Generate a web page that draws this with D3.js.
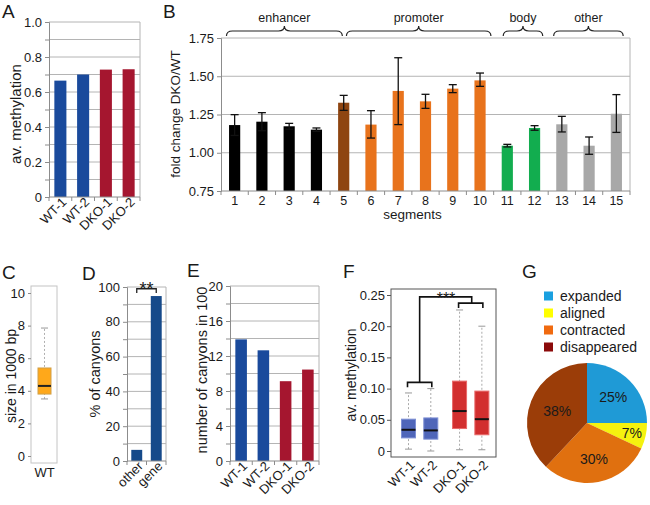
<!DOCTYPE html>
<html>
<head>
<meta charset="utf-8">
<script src="https://cdn.jsdelivr.net/npm/d3@7"></script>
<style>
body { margin: 0; background: #fff; }
text { font-family: "Liberation Sans", Arial, sans-serif; fill: #1a1a1a; }
</style>
</head>
<body>
<svg id="fig" width="650" height="505"></svg>
<script>

// ---- data ----
// A / E
var samples = ["WT-1", "WT-2", "DKO-1", "DKO-2"];
var methAvg = [0.665, 0.70, 0.728, 0.73];
var canyonCount = [13.9, 12.65, 9.12, 10.45];
// B
var segments = ["1","2","3","4","5","6","7","8","9","10","11","12","13","14","15"];
var segType = ["enhancer","enhancer","enhancer","enhancer","mixed","promoter","promoter","promoter","promoter","promoter","body","body","other","other","other"];
var foldChange = [1.181, 1.203, 1.173, 1.151, 1.327, 1.184, 1.404, 1.336, 1.419, 1.473, 1.046, 1.162, 1.186, 1.046, 1.255];
var foldHigh   = [1.249, 1.262, 1.192, 1.162, 1.375, 1.275, 1.621, 1.382, 1.445, 1.521, 1.055, 1.177, 1.238, 1.103, 1.380];
var foldLow    = [1.113, 1.144, 1.154, 1.140, 1.277, 1.096, 1.184, 1.290, 1.393, 1.434, 1.038, 1.147, 1.136, 0.990, 1.133];
var regions = ["enhancer", "promoter", "body", "other"];
// C  (low whisker, Q1, median, Q3, high whisker)
var sizeStats = [3.5, 3.8, 4.3, 5.4, 7.85];
// D
var canyonLoc = ["other", "gene"];
var canyonPct = [6.4, 94.8];
// F  (low whisker, Q1, median, Q3, high whisker) per sample
var methBox = [
  [0.003, 0.021, 0.034, 0.051, 0.093],
  [0.000, 0.019, 0.033, 0.053, 0.100],
  [0.002, 0.036, 0.064, 0.112, 0.226],
  [0.002, 0.026, 0.051, 0.096, 0.200]
];
// G
var canyonFate = ["expanded", "aligned", "contracted", "disappeared"];
var fatePct = [25, 7, 30, 38];

// ---- styles ----
var gridCol = "#b4b4b4", axisCol = "#8c8c8c";
var sampleCol = {"WT-1": "#1a4a9c", "WT-2": "#1a4a9c", "DKO-1": "#a5162f", "DKO-2": "#a5162f"};
var segCol = {enhancer: "#000000", mixed: "#8e4511", promoter: "#e8731c", body: "#12ad4f", other: "#a8a8a8"};
var boxCol = {"WT-1": "#4f66b9", "WT-2": "#4f66b9", "DKO-1": "#d22f2f", "DKO-2": "#d22f2f"};
var boxEdge = {"WT-1": "#7d8fd4", "WT-2": "#7d8fd4", "DKO-1": "#e86a6a", "DKO-2": "#e86a6a"};
var sliceCol = ["#1f9ad6", "#f5f20f", "#e0700f", "#9b3d08"];
var legendCol = ["#1aa0e0", "#ffff00", "#f06a10", "#8b0a0a"];

var svg = d3.select("#fig");

function panelLabel(t, x, y) {
  svg.append("text").attr("x", x).attr("y", y).style("font-size", "19px").text(t);
}
function yTitle(t, x, y, size) {
  svg.append("text")
    .attr("transform", "translate(" + x + "," + y + ") rotate(-90)")
    .attr("text-anchor", "middle").attr("dy", "0.35em")
    .style("font-size", size + "px").text(t);
}
function styleAxis(g, size) {
  g.attr("font-size", size);
  g.select(".domain").attr("stroke", axisCol);
  g.selectAll(".tick line").attr("stroke", axisCol);
}

// simple bar panel used for A, D, E
function barPanel(p) {
  var x = d3.scaleBand().domain(p.cats).range([p.x0, p.x1]);
  var y = d3.scaleLinear().domain(p.domain).range([p.y0, p.y1]);
  var ticks = d3.range(p.n + 1).map(function(i) { return p.domain[0] + i * (p.domain[1] - p.domain[0]) / p.n; });
  var g = svg.append("g");

  g.selectAll(".grid").data(ticks.slice(1)).enter().append("line")
    .attr("x1", p.x0).attr("x2", p.x1)
    .attr("y1", function(d) { return y(d); }).attr("y2", function(d) { return y(d); })
    .attr("stroke", gridCol);
  g.append("line").attr("x1", p.x1).attr("x2", p.x1).attr("y1", p.y1).attr("y2", p.y0).attr("stroke", gridCol);

  g.selectAll(".bar").data(p.vals).enter().append("rect")
    .attr("x", function(d, i) { return x(p.cats[i]) + x.bandwidth() * (1 - p.frac) / 2; })
    .attr("width", x.bandwidth() * p.frac)
    .attr("y", function(d) { return y(d); })
    .attr("height", function(d) { return y(p.domain[0]) - y(d); })
    .attr("fill", function(d, i) { return p.colors[i]; });

  var ya = g.append("g").attr("transform", "translate(" + p.x0 + ",0)")
    .call(d3.axisLeft(y).tickValues(ticks).tickSize(4).tickPadding(3)
      .tickFormat(function(d, i) { return i % p.every ? "" : p.fmt(d); }));
  styleAxis(ya, p.tickSize);

  var xa = g.append("g");
  xa.append("line").attr("x1", p.x0).attr("x2", p.x1).attr("y1", p.y0).attr("y2", p.y0).attr("stroke", axisCol);
  xa.selectAll(".xt").data(d3.range(p.cats.length + 1)).enter().append("line")
    .attr("x1", function(i) { return p.x0 + i * x.step(); })
    .attr("x2", function(i) { return p.x0 + i * x.step(); })
    .attr("y1", p.y0).attr("y2", p.y0 + 4).attr("stroke", axisCol);
  xa.selectAll(".xl").data(p.cats).enter().append("text")
    .attr("transform", function(d) {
      return "translate(" + (x(d) + x.bandwidth() / 2 + 7) + "," + (p.y0 + 6) + ") rotate(-45)";
    })
    .attr("text-anchor", "end").style("font-size", p.tickSize + "px").text(function(d) { return d; });
  return {x: x, y: y};
}

// ---- A ----
panelLabel("A", 2, 18);
barPanel({cats: samples, vals: methAvg, colors: samples.map(function(s) { return sampleCol[s]; }),
  x0: 49, x1: 140, y0: 197, y1: 22, domain: [0, 1], n: 10, every: 2, frac: 0.53, tickSize: 13,
  fmt: function(d) { return d === 0 ? "0" : d3.format(".1f")(d); }});
yTitle("av. methylation", 16, 114, 15);

// ---- B ----
panelLabel("B", 163, 18);
(function() {
  var x0 = 221, x1 = 630, y0 = 191, y1 = 38;
  var x = d3.scaleBand().domain(segments).range([x0, x1]);
  var y = d3.scaleLinear().domain([0.75, 1.75]).range([y0, y1]);
  var g = svg.append("g");
  g.selectAll(".grid").data([1.0, 1.25, 1.5, 1.75]).enter().append("line")
    .attr("x1", x0).attr("x2", x1)
    .attr("y1", function(d) { return y(d); }).attr("y2", function(d) { return y(d); })
    .attr("stroke", gridCol);
  g.append("line").attr("x1", x1).attr("x2", x1).attr("y1", y1).attr("y2", y0).attr("stroke", gridCol);

  var bw = x.bandwidth() * 0.41;
  g.selectAll(".bar").data(foldChange).enter().append("rect")
    .attr("x", function(d, i) { return x(segments[i]) + (x.bandwidth() - bw) / 2; })
    .attr("width", bw)
    .attr("y", function(d) { return y(d); })
    .attr("height", function(d) { return y0 - y(d); })
    .attr("fill", function(d, i) { return segCol[segType[i]]; });

  var eb = g.selectAll(".err").data(segments).enter().append("g")
    .attr("transform", function(d) { return "translate(" + (x(d) + x.bandwidth() / 2) + ",0)"; })
    .attr("stroke", "#111").attr("stroke-width", 1.3);
  eb.append("line").attr("y1", function(d, i) { return y(foldHigh[i]); }).attr("y2", function(d, i) { return y(foldLow[i]); });
  eb.append("line").attr("x1", -4).attr("x2", 4).attr("y1", function(d, i) { return y(foldHigh[i]); }).attr("y2", function(d, i) { return y(foldHigh[i]); });
  eb.append("line").attr("x1", -4).attr("x2", 4).attr("y1", function(d, i) { return y(foldLow[i]); }).attr("y2", function(d, i) { return y(foldLow[i]); });

  var ya = g.append("g").attr("transform", "translate(" + x0 + ",0)")
    .call(d3.axisLeft(y).tickValues([0.75, 1.0, 1.25, 1.5, 1.75]).tickSize(4).tickPadding(3).tickFormat(d3.format(".2f")));
  styleAxis(ya, 13);

  g.append("line").attr("x1", x0).attr("x2", x1).attr("y1", y0).attr("y2", y0).attr("stroke", axisCol);
  g.selectAll(".xt").data(d3.range(segments.length + 1)).enter().append("line")
    .attr("x1", function(i) { return x0 + i * x.step(); }).attr("x2", function(i) { return x0 + i * x.step(); })
    .attr("y1", y0).attr("y2", y0 + 4).attr("stroke", axisCol);
  g.selectAll(".xl").data(segments).enter().append("text")
    .attr("x", function(d) { return x(d) + x.bandwidth() / 2; }).attr("y", 205)
    .attr("text-anchor", "middle").style("font-size", "12.5px").text(function(d) { return d; });
  g.append("text").attr("x", (x0 + x1) / 2 - 13).attr("y", 219).attr("text-anchor", "middle")
    .style("font-size", "13.5px").text("segments");

  // braces above the groups, spans in segment units
  var braceSpan = [[0.2, 4.45], [4.6, 9.9], [10.35, 11.8], [12.2, 14.75]];
  var s = d3.scaleLinear().domain([0, segments.length]).range([x0, x1]);
  regions.forEach(function(r, i) {
    var a = s(braceSpan[i][0]), b = s(braceSpan[i][1]), m = (a + b) / 2;
    var yb = 36, yl = 31, yt = 26;
    g.append("path")
      .attr("d", "M" + a + "," + yb + " Q" + a + "," + yl + " " + (a + 6) + "," + yl +
        " L" + (m - 6) + "," + yl + " Q" + m + "," + yl + " " + m + "," + yt +
        " Q" + m + "," + yl + " " + (m + 6) + "," + yl +
        " L" + (b - 6) + "," + yl + " Q" + b + "," + yl + " " + b + "," + yb)
      .attr("fill", "none").attr("stroke", "#222").attr("stroke-width", 1.2);
    g.append("text").attr("x", m).attr("y", 22).attr("text-anchor", "middle")
      .style("font-size", "12.5px").text(r);
  });
  yTitle("fold change DKO/WT", 175, 114, 13.5);
})();

// ---- C ----
panelLabel("C", 2, 279);
(function() {
  var fx0 = 31, fx1 = 57, fy0 = 463, fy1 = 286;
  var y = d3.scaleLinear().domain([0, 10]).range([456, 293]);
  var g = svg.append("g");
  g.append("rect").attr("x", fx0).attr("y", fy1).attr("width", fx1 - fx0).attr("height", fy0 - fy1)
    .attr("fill", "none").attr("stroke", "#c4c4c4");
  var ya = g.append("g").attr("transform", "translate(" + fx0 + ",0)")
    .call(d3.axisLeft(y).tickValues([0, 2, 4, 6, 8, 10]).tickSize(3).tickPadding(3));
  ya.select(".domain").remove();
  styleAxis(ya, 13);
  var cx = 44.5, hw = 6.5;
  g.append("line").attr("x1", cx).attr("x2", cx).attr("y1", y(sizeStats[0])).attr("y2", y(sizeStats[4]))
    .attr("stroke", "#b0b0b0").attr("stroke-dasharray", "2,2");
  [sizeStats[0], sizeStats[4]].forEach(function(v) {
    g.append("line").attr("x1", cx - 3.5).attr("x2", cx + 3.5).attr("y1", y(v)).attr("y2", y(v)).attr("stroke", "#999");
  });
  g.append("rect").attr("x", cx - hw).attr("width", 2 * hw)
    .attr("y", y(sizeStats[3])).attr("height", y(sizeStats[1]) - y(sizeStats[3]))
    .attr("fill", "#ffa81a").attr("stroke", "#d0a04a");
  g.append("line").attr("x1", cx - hw).attr("x2", cx + hw).attr("y1", y(sizeStats[2])).attr("y2", y(sizeStats[2]))
    .attr("stroke", "#222").attr("stroke-width", 2);
  g.append("text").attr("x", cx).attr("y", 477).attr("text-anchor", "middle").style("font-size", "13px").text("WT");
  yTitle("size in 1000 bp", 11, 376, 14);
})();

// ---- D ----
panelLabel("D", 82, 280);
(function() {
  var sc = barPanel({cats: canyonLoc, vals: canyonPct, colors: ["#164a8a", "#164a8a"],
    x0: 127, x1: 166, y0: 461, y1: 287, domain: [0, 100], n: 10, every: 2, frac: 0.56, tickSize: 13,
    fmt: d3.format("d")});
  var a = sc.x("other") + sc.x.bandwidth() / 2, b = sc.x("gene") + sc.x.bandwidth() / 2;
  var yb = sc.y(99), yl = sc.y(96.5);
  svg.append("path").attr("d", "M" + a + "," + yl + " L" + a + "," + yb + " L" + b + "," + yb + " L" + b + "," + yl)
    .attr("fill", "none").attr("stroke", "#222").attr("stroke-width", 1.3);
  svg.append("text").attr("x", (a + b) / 2).attr("y", 295).attr("text-anchor", "middle")
    .style("font-size", "18px").text("**");
  yTitle("% of canyons", 95, 374, 14.5);
})();

// ---- E ----
panelLabel("E", 187, 277);
barPanel({cats: samples, vals: canyonCount, colors: samples.map(function(s) { return sampleCol[s]; }),
  x0: 230, x1: 319, y0: 461, y1: 286, domain: [0, 20], n: 10, every: 2, frac: 0.52, tickSize: 13,
  fmt: d3.format("d")});
yTitle("number of canyons in 100", 202, 370, 14.5);

// ---- F ----
panelLabel("F", 343, 278);
(function() {
  var fx0 = 391, fx1 = 496, fy0 = 457, fy1 = 289;
  var y = d3.scaleLinear().domain([0, 0.25]).range([451, 295]);
  // WT pair and DKO pair are set slightly apart
  var slot = samples.map(function(s, i) { return i + (i >= 2 ? 0.29 : 0); });
  var x = d3.scaleLinear().domain([0, 1]).range([408.5, 430.8]);
  var g = svg.append("g");
  g.append("rect").attr("x", fx0).attr("y", fy1).attr("width", fx1 - fx0).attr("height", fy0 - fy1)
    .attr("fill", "none").attr("stroke", "#555");
  var ya = g.append("g").attr("transform", "translate(" + fx0 + ",0)")
    .call(d3.axisLeft(y).tickValues([0, 0.05, 0.1, 0.15, 0.2, 0.25]).tickSize(4).tickPadding(2)
      .tickFormat(function(d) { return d === 0 ? "0" : d3.format(".2f")(d); }));
  ya.select(".domain").remove();
  styleAxis(ya, 13);
  ya.selectAll(".tick line").attr("stroke", "#555");

  var hw = 7;
  samples.forEach(function(s, i) {
    var st = methBox[i], cx = x(slot[i]);
    g.append("line").attr("x1", cx).attr("x2", cx).attr("y1", y(st[0])).attr("y2", y(st[4]))
      .attr("stroke", "#aaa").attr("stroke-dasharray", "2,2");
    [st[0], st[4]].forEach(function(v) {
      g.append("line").attr("x1", cx - 3.5).attr("x2", cx + 3.5).attr("y1", y(v)).attr("y2", y(v)).attr("stroke", "#999");
    });
    g.append("rect").attr("x", cx - hw).attr("width", 2 * hw)
      .attr("y", y(st[3])).attr("height", y(st[1]) - y(st[3]))
      .attr("fill", boxCol[s]).attr("stroke", boxEdge[s]);
    g.append("line").attr("x1", cx - hw).attr("x2", cx + hw).attr("y1", y(st[2])).attr("y2", y(st[2]))
      .attr("stroke", "#111").attr("stroke-width", 2);
    g.append("text")
      .attr("transform", "translate(" + (cx + 7) + "," + (fy0 + 9) + ") rotate(-45)")
      .attr("text-anchor", "end").style("font-size", "13px").text(s);
  });

  // significance brackets
  var w1 = x(slot[0]) - 1, w2 = x(slot[1]) + 1, wm = (w1 + w2) / 2;
  var d1 = x(slot[2]) - 1, d2 = x(slot[3]) + 1, dm = (d1 + d2) / 2 + 1;
  var br = g.append("g").attr("fill", "none").attr("stroke", "#111").attr("stroke-width", 1.6);
  br.append("path").attr("d", "M" + w1 + "," + y(0.102) + " L" + w1 + "," + y(0.110) + " L" + w2 + "," + y(0.110) + " L" + w2 + "," + y(0.102));
  br.append("path").attr("d", "M" + d1 + "," + y(0.229) + " L" + d1 + "," + y(0.237) + " L" + d2 + "," + y(0.237) + " L" + d2 + "," + y(0.229));
  br.append("path").attr("d", "M" + wm + "," + y(0.110) + " L" + wm + "," + y(0.247) + " L" + dm + "," + y(0.247) + " L" + dm + "," + y(0.237));
  g.append("text").attr("x", 446).attr("y", 304).attr("text-anchor", "middle").style("font-size", "16px").text("***");
  yTitle("av. methylation", 351, 375, 14);
})();

// ---- G ----
panelLabel("G", 522, 278);
(function() {
  var lg = svg.append("g");
  canyonFate.forEach(function(c, i) {
    var yc = 296 + i * 17;
    lg.append("rect").attr("x", 544).attr("y", yc - 4.5).attr("width", 9).attr("height", 9).attr("fill", legendCol[i]);
    lg.append("text").attr("x", 560).attr("y", yc).attr("dy", "0.35em").style("font-size", "14px").text(c);
  });
  var r = 60;
  var pie = d3.pie().sort(null)(fatePct);
  var arc = d3.arc().innerRadius(0).outerRadius(r);
  var g = svg.append("g").attr("transform", "translate(587,423)");
  g.selectAll("path").data(pie).enter().append("path").attr("d", arc).attr("fill", function(d, i) { return sliceCol[i]; });
  g.selectAll(".pl").data(pie).enter().append("text")
    .attr("transform", function(d) {
      var lr = d.data < 10 ? 46 : (d.data > 35 ? 32 : 37);
      var c = d3.arc().innerRadius(lr).outerRadius(lr).centroid(d);
      return "translate(" + c[0] + "," + c[1] + ")";
    })
    .attr("text-anchor", "middle").attr("dy", "0.35em").style("font-size", "14px")
    .text(function(d) { return d.data + "%"; });
})();

</script>
</body>
</html>
